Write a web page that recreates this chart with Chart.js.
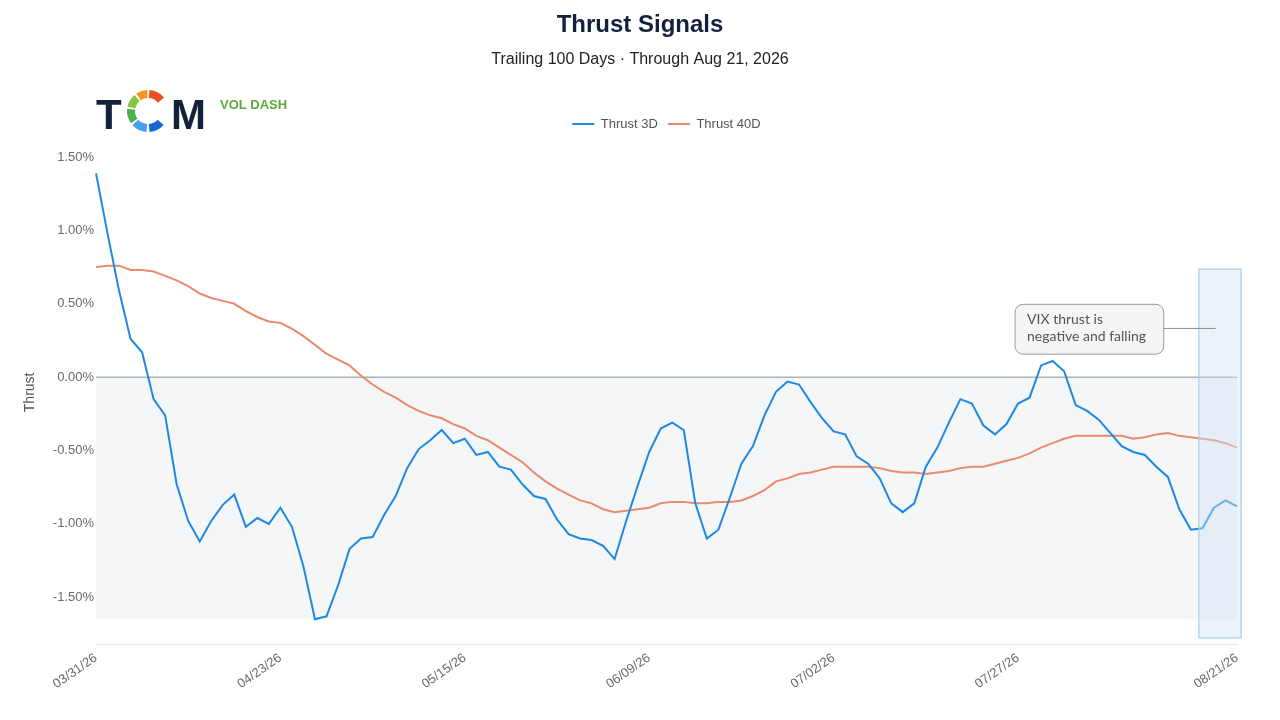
<!DOCTYPE html>
<html>
<head>
<meta charset="utf-8">
<title>Thrust Signals</title>
<script src="https://cdn.jsdelivr.net/npm/chart.js@4.4.1/dist/chart.umd.min.js"></script>
<style>
  html, body { margin: 0; padding: 0; background: #fff; }
  #wrap { width: 1280px; height: 720px; position: relative; }
</style>
</head>
<body>
<div id="wrap"><canvas id="thrustChart"></canvas></div>
<script>
// trading days, 03/31/26 .. 08/21/26
const dates = [
  '03/31/26','04/01/26','04/02/26','04/06/26','04/07/26','04/08/26','04/09/26','04/10/26','04/13/26','04/14/26',
  '04/15/26','04/16/26','04/17/26','04/20/26','04/21/26','04/22/26','04/23/26','04/24/26','04/27/26','04/28/26',
  '04/29/26','04/30/26','05/01/26','05/04/26','05/05/26','05/06/26','05/07/26','05/08/26','05/11/26','05/12/26',
  '05/13/26','05/14/26','05/15/26','05/18/26','05/19/26','05/20/26','05/21/26','05/22/26','05/26/26','05/27/26',
  '05/28/26','05/29/26','06/01/26','06/02/26','06/03/26','06/04/26','06/05/26','06/08/26','06/09/26','06/10/26',
  '06/11/26','06/12/26','06/15/26','06/16/26','06/17/26','06/18/26','06/22/26','06/23/26','06/24/26','06/25/26',
  '06/26/26','06/29/26','06/30/26','07/01/26','07/02/26','07/06/26','07/07/26','07/08/26','07/09/26','07/10/26',
  '07/13/26','07/14/26','07/15/26','07/16/26','07/17/26','07/20/26','07/21/26','07/22/26','07/23/26','07/24/26',
  '07/27/26','07/28/26','07/29/26','07/30/26','07/31/26','08/03/26','08/04/26','08/05/26','08/06/26','08/07/26',
  '08/10/26','08/11/26','08/12/26','08/13/26','08/14/26','08/17/26','08/18/26','08/19/26','08/20/26','08/21/26'
];

// values in percent
const thrust3D = [
  1.39, 0.98, 0.59, 0.26, 0.17, -0.15, -0.26, -0.73, -0.98, -1.12,
  -0.98, -0.87, -0.80, -1.02, -0.96, -1.00, -0.89, -1.02, -1.29, -1.65,
  -1.63, -1.42, -1.17, -1.10, -1.09, -0.94, -0.81, -0.62, -0.49, -0.43,
  -0.36, -0.45, -0.42, -0.53, -0.51, -0.61, -0.63, -0.73, -0.81, -0.83,
  -0.97, -1.07, -1.10, -1.11, -1.15, -1.24, -0.98, -0.74, -0.51, -0.35,
  -0.31, -0.36, -0.86, -1.10, -1.04, -0.82, -0.59, -0.47, -0.26, -0.10,
  -0.03, -0.05, -0.17, -0.28, -0.37, -0.39, -0.54, -0.59, -0.69, -0.86,
  -0.92, -0.86, -0.61, -0.48, -0.31, -0.15, -0.18, -0.33, -0.39, -0.32,
  -0.18, -0.14, 0.08, 0.11, 0.04, -0.19, -0.23, -0.29, -0.38, -0.47,
  -0.51, -0.53, -0.61, -0.68, -0.90, -1.04, -1.03, -0.89, -0.84, -0.88
];

const thrust40D = [
  0.75, 0.76, 0.76, 0.73, 0.73, 0.72, 0.69, 0.66, 0.62, 0.57,
  0.54, 0.52, 0.50, 0.45, 0.41, 0.38, 0.37, 0.33, 0.28, 0.22,
  0.16, 0.12, 0.08, 0.01, -0.05, -0.10, -0.14, -0.19, -0.23, -0.26,
  -0.28, -0.32, -0.35, -0.40, -0.43, -0.48, -0.53, -0.58, -0.65, -0.71,
  -0.76, -0.80, -0.84, -0.86, -0.90, -0.92, -0.91, -0.90, -0.89, -0.86,
  -0.85, -0.85, -0.86, -0.86, -0.85, -0.85, -0.84, -0.81, -0.77, -0.71,
  -0.69, -0.66, -0.65, -0.63, -0.61, -0.61, -0.61, -0.61, -0.62, -0.64,
  -0.65, -0.65, -0.66, -0.65, -0.64, -0.62, -0.61, -0.61, -0.59, -0.57,
  -0.55, -0.52, -0.48, -0.45, -0.42, -0.40, -0.40, -0.40, -0.40, -0.40,
  -0.42, -0.41, -0.39, -0.38, -0.40, -0.41, -0.42, -0.43, -0.45, -0.48
];

const tickDates = ['03/31/26', '04/23/26', '05/15/26', '06/09/26', '07/02/26', '07/27/26', '08/21/26'];
const yTicks = [1.5, 1.0, 0.5, 0, -0.5, -1.0, -1.5];
const calloutLines = ['VIX thrust is', 'negative and falling'];

Chart.defaults.font.family = '"Liberation Sans", Arial, sans-serif';

// grey band below zero, down to the low of the 3D series, plus the zero line
const shadePlugin = {
  id: 'shade',
  beforeDatasetsDraw(chart) {
    const {ctx, chartArea: a, scales: {y}} = chart;
    const y0 = y.getPixelForValue(0);
    const y1 = y.getPixelForValue(Math.min(...thrust3D));
    ctx.save();
    ctx.fillStyle = '#f5f6f8';
    ctx.fillRect(a.left, y0, a.right - a.left, y1 - y0);
    ctx.strokeStyle = '#aab2bc';
    ctx.lineWidth = 1.5;
    ctx.beginPath();
    ctx.moveTo(a.left, y0);
    ctx.lineTo(a.right, y0);
    ctx.stroke();
    ctx.restore();
  }
};

// last-week highlight + callout
const highlightPlugin = {
  id: 'highlight',
  afterDatasetsDraw(chart) {
    const {ctx, scales: {x, y}} = chart;
    const bx0 = x.getPixelForValue(95.65), bx1 = x.getPixelForValue(99.4);
    const by0 = y.getPixelForValue(0.74), by1 = y.getPixelForValue(-1.78);
    ctx.save();
    ctx.fillStyle = 'rgba(208,227,246,0.43)';
    ctx.fillRect(bx0, by0, bx1 - bx0, by1 - by0);
    ctx.strokeStyle = '#a3c7ea';
    ctx.lineWidth = 1;
    ctx.strokeRect(bx0 + 0.5, by0 + 0.5, bx1 - bx0 - 1, by1 - by0 - 1);

    // callout box
    const cx0 = x.getPixelForValue(79.7), cx1 = x.getPixelForValue(92.6);
    const cy0 = y.getPixelForValue(0.50), cy1 = y.getPixelForValue(0.16);
    const cyMid = y.getPixelForValue(0.332);
    ctx.strokeStyle = '#8a8f96';
    ctx.beginPath();
    ctx.moveTo(cx1, cyMid);
    ctx.lineTo(x.getPixelForValue(97.15), cyMid);
    ctx.stroke();
    ctx.beginPath();
    ctx.roundRect(cx0 + 0.5, cy0 + 0.5, cx1 - cx0, cy1 - cy0, 8);
    ctx.fillStyle = '#f4f5f7';
    ctx.fill();
    ctx.strokeStyle = '#999';
    ctx.stroke();
    ctx.fillStyle = '#555';
    ctx.font = '14px Lato, "Open Sans", sans-serif';
    ctx.textBaseline = 'middle';
    ctx.textAlign = 'left';
    ctx.fillText(calloutLines[0], cx0 + 12.5, cyMid - 9);
    ctx.fillText(calloutLines[1], cx0 + 12.5, cyMid + 8.5);
    ctx.restore();
  }
};

// TCM logo + VOL DASH tag
const logoPlugin = {
  id: 'logo',
  afterDraw(chart) {
    const ctx = chart.ctx;
    ctx.save();
    ctx.fillStyle = '#14213a';
    ctx.font = 'bold 42px "Liberation Sans", Arial, sans-serif';
    ctx.textBaseline = 'alphabetic';
    ctx.textAlign = 'left';
    ctx.fillText('T', 96, 128.5);
    ctx.fillText('M', 171, 128.5);
    const cx = 148, cy = 111, r = 17;
    const segs = [
      [42, 86, '#1565d8'],
      [94, 138, '#42a0f0'],
      [144, 186, '#4caf50'],
      [192, 230, '#8cc63f'],
      [236, 268, '#f7931e'],
      [274, 320, '#e8501e']
    ];
    ctx.lineWidth = 8;
    segs.forEach(([a0, a1, c]) => {
      ctx.strokeStyle = c;
      ctx.beginPath();
      ctx.arc(cx, cy, r, a0 * Math.PI / 180, a1 * Math.PI / 180);
      ctx.stroke();
    });
    ctx.fillStyle = '#5aab3a';
    ctx.font = 'bold 13px "Liberation Sans", Arial, sans-serif';
    ctx.textBaseline = 'middle';
    ctx.fillText('VOL DASH', 220, 105);
    ctx.restore();
  }
};

const ctx = document.getElementById('thrustChart');

new Chart(ctx, {
  type: 'line',
  data: {
    labels: dates,
    datasets: [{
      label: 'Thrust 3D',
      data: thrust3D,
      borderColor: '#1e88e5',
      backgroundColor: '#1e88e5',
      borderWidth: 2,
      pointRadius: 0,
      tension: 0
    }, {
      label: 'Thrust 40D',
      data: thrust40D,
      borderColor: '#ea8a6c',
      backgroundColor: '#ea8a6c',
      borderWidth: 2,
      pointRadius: 0,
      tension: 0
    }]
  },
  options: {
    responsive: true,
    maintainAspectRatio: false,
    animation: false,
    layout: {
      padding: { left: 10, right: 10, top: 0, bottom: 22 }
    },
    plugins: {
      title: {
        display: true,
        text: 'Thrust Signals',
        color: '#14213d',
        font: { size: 24, weight: 'bold' },
        padding: { top: 11, bottom: 0 }
      },
      subtitle: {
        display: true,
        text: 'Trailing 100 Days \u00b7 Through Aug 21, 2026',
        color: '#222',
        font: { size: 16 },
        padding: { top: 10, bottom: 38.5 }
      },
      legend: {
        display: true,
        position: 'top',
        fullSize: false,
        labels: {
          usePointStyle: true,
          pointStyle: 'line',
          pointStyleWidth: 22,
          color: '#555',
          font: { size: 13 }
        }
      },
      tooltip: { enabled: false }
    },
    scales: {
      x: {
        grid: { display: false, drawTicks: false },
        border: { display: true, color: '#e3e6ea' },
        ticks: {
          autoSkip: false,
          minRotation: 35,
          maxRotation: 35,
          color: '#666b73',
          font: { size: 13 },
          padding: 6,
          callback: function (value, index) {
            const d = dates[index];
            return tickDates.includes(d) ? d : null;
          }
        }
      },
      y: {
        min: -1.82,
        max: 1.613,
        grid: { display: false, drawTicks: false },
        border: { display: false },
        afterBuildTicks: (scale) => {
          scale.ticks = yTicks.map(v => ({ value: v }));
        },
        ticks: {
          color: '#666b73',
          font: { size: 13 },
          padding: 2,
          callback: (v) => v.toFixed(2) + '%'
        },
        title: {
          display: true,
          text: 'Thrust',
          color: '#555',
          font: { size: 14 },
          padding: { top: 12, bottom: 12 }
        }
      },
      // empty right-hand gutter so the plot ends where the reference does
      yRight: {
        position: 'right',
        display: true,
        grid: { display: false, drawTicks: false },
        border: { display: false },
        ticks: { display: false },
        afterFit: (scale) => { scale.width = 33; }
      }
    }
  },
  plugins: [shadePlugin, highlightPlugin, logoPlugin]
});
</script>
</body>
</html>
